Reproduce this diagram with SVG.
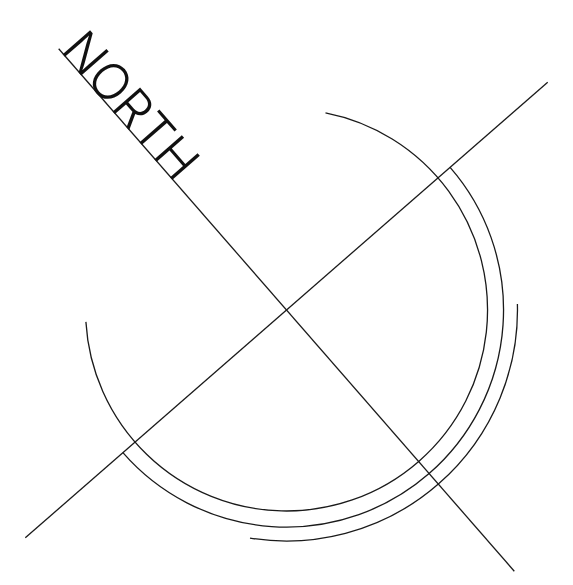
<svg xmlns="http://www.w3.org/2000/svg" width="573" height="585" viewBox="0 0 573 585">
<style>
.ln{fill:none;stroke:#1a1a1a;stroke-width:1.3}
.lbl{font-family:Inter,"Liberation Sans",sans-serif;font-weight:300;font-size:50px;fill:#111}
</style>
<rect width="573" height="585" fill="#fff"/>
<g id="connectors">
<line class="ln" x1="25.3" y1="537.8" x2="547.7" y2="82.2"/>
<line class="ln" x1="58.7" y1="48.8" x2="514.3" y2="571.2"/>
</g>
<g id="inner-arc"><path class="ln" d="M325.5,112.8 A201,201 0 1 1 85.9,321.9"/></g>
<g id="middle-arc"><path class="ln" d="M450.1,167.4 A217,217 0 0 1 429.1,473.6 A217,217 0 0 1 122.9,452.6"/></g>
<g id="outer-arc"><path class="ln" d="M517.4,304 A231,231 0 0 1 250,538.1"/></g>
<g id="north-label"><text class="lbl" transform="translate(59.5,50.5) rotate(48.9)">NORTH</text></g>
</svg>
